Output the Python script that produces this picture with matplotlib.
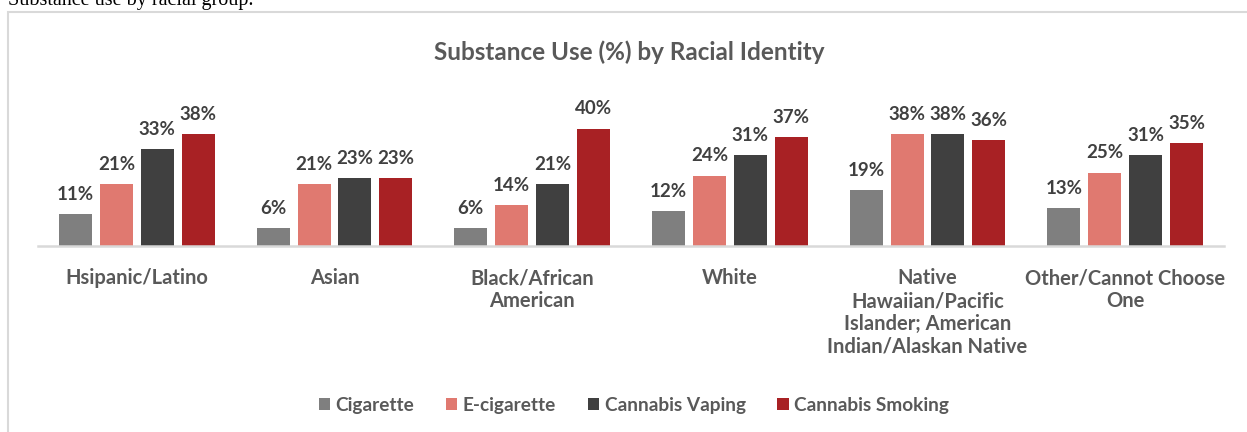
import numpy as np
import matplotlib
matplotlib.use("Agg")
import matplotlib.pyplot as plt
from matplotlib.patches import Rectangle

# survey results, percent of respondents
groups = ["Hsipanic/Latino", "Asian", "Black/African\nAmerican", "White",
          "Native\nHawaiian/Pacific\nIslander; American\nIndian/Alaskan Native",
          "Other/Cannot Choose\nOne"]
substances = ["Cigarette", "E-cigarette", "Cannabis Vaping", "Cannabis Smoking"]
cigarette = [11, 6, 6, 12, 19, 13]
e_cigarette = [21, 21, 14, 24, 38, 25]
cannabis_vaping = [33, 23, 21, 31, 38, 31]
cannabis_smoking = [38, 23, 40, 37, 36, 35]
colors = ["#7F7F7F", "#E07970", "#404040", "#A82124"]

plt.rcParams['font.family'] = ['Lato', 'DejaVu Sans']
W, H = 1247, 432
fig = plt.figure(figsize=(W / 100, H / 100), dpi=100)

# outer frame (runs past right/bottom edge)
fig.patches.append(Rectangle((8 / W, -0.2), 1.5, 1 - 12 / H + 0.2,
                             transform=fig.transFigure, fill=False,
                             edgecolor="#D9D9D9", lw=1.5))
fig.text(8 / W, 1 - 5 / H, "Substance use by racial group.",
         family="Liberation Serif", fontsize=14.5, va="baseline", color="black")

ax = fig.add_axes([38 / W, (H - 246) / H, (1224 - 38) / W, 141 / H])
x = np.arange(len(groups))
step, width = 0.207, 0.167
series = [cigarette, e_cigarette, cannabis_vaping, cannabis_smoking]
for k, (vals, name, c) in enumerate(zip(series, substances, colors)):
    pos = x + (k - 1.5) * step
    ax.bar(pos, vals, width, color=c, label=name, zorder=2)
    for px, v in zip(pos, vals):
        ax.annotate(f"{v}%", (px, v), xytext=(0, 8), textcoords="offset points",
                    ha="center", va="bottom", fontsize=13.5, fontweight="bold",
                    color="#404040")

ax.set_xlim(-0.5, 5.5)
ax.set_ylim(0, 48)
ax.set_xticks(x)
ax.set_xticklabels(groups, fontsize=14.5, fontweight="bold", color="#595959",
                   linespacing=1.18)
ax.tick_params(axis="x", length=0, pad=16)
ax.set_yticks([])
for s in ["top", "right", "left"]:
    ax.spines[s].set_visible(False)
ax.spines["bottom"].set_color("#D9D9D9")
ax.spines["bottom"].set_linewidth(1.8)

fig.text(629 / W, 1 - 52 / H, "Substance Use (%) by Racial Identity",
         ha="center", va="center", fontsize=17.5, fontweight="bold", color="#595959")

leg = fig.legend(loc="center", bbox_to_anchor=(634 / W, 1 - 405 / H), ncol=4,
                 frameon=False, handlelength=0.6, handleheight=0.6,
                 handletextpad=0.3, columnspacing=1.65,
                 prop={"size": 13.7, "weight": "bold"})
for t in leg.get_texts():
    t.set_color("#595959")

fig.savefig("out.png", dpi=100)
